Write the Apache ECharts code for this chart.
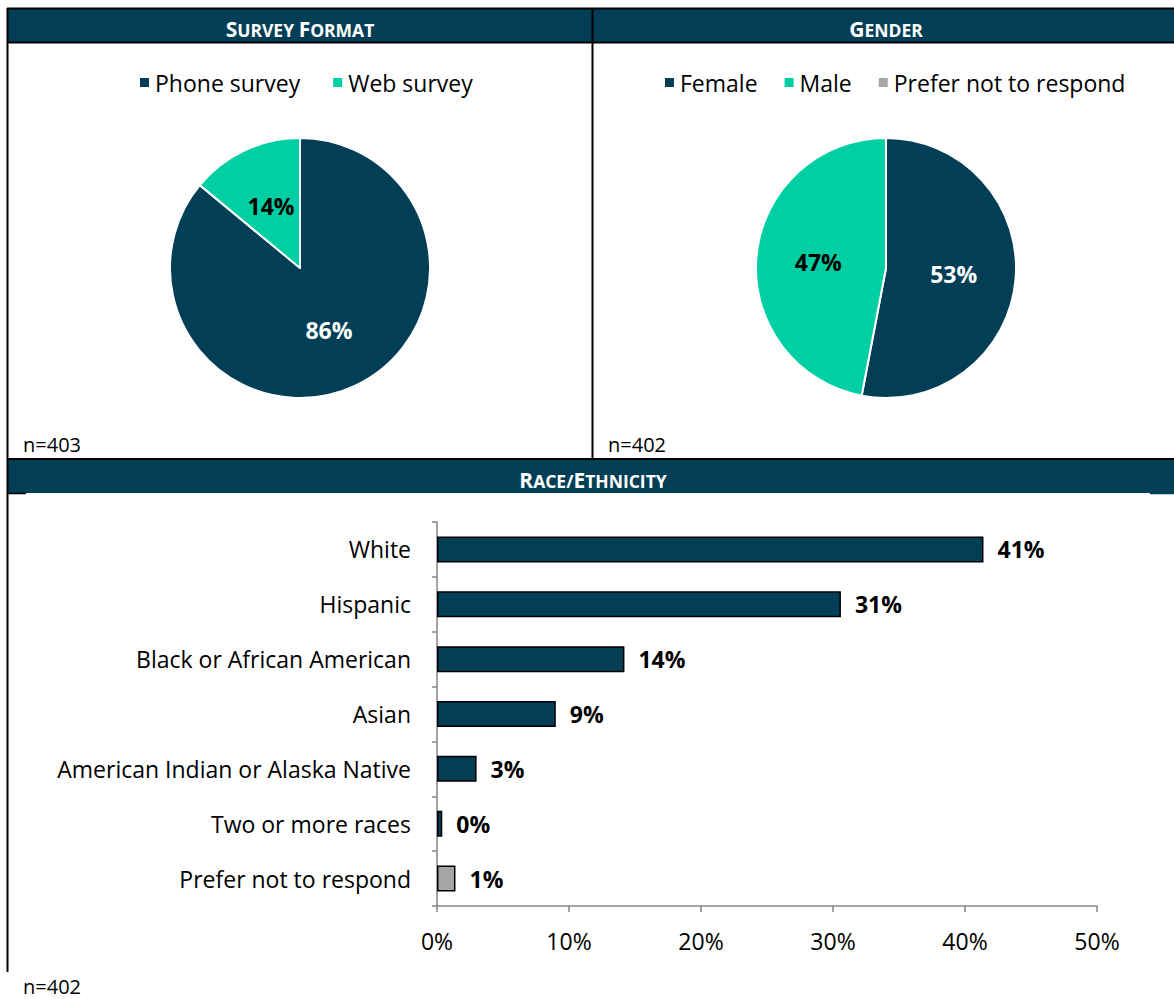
<!DOCTYPE html>
<html>
<head>
<meta charset="utf-8">
<script src="https://cdn.jsdelivr.net/npm/echarts@6/dist/echarts.min.js"></script>
<style>
  html, body { margin: 0; padding: 0; background: #fff; }
  #chart { width: 1174px; height: 999px; }
</style>
</head>
<body>
<div id="chart"></div>
<script>
// ---- data ----
const formatNames = ['Phone survey', 'Web survey'];
const formatValues = [86, 14];
const formatN = 'n=403';

const genderNames = ['Female', 'Male', 'Prefer not to respond'];
const genderValues = [53, 47, 0];
const genderN = 'n=402';

const raceCategories = ['White', 'Hispanic', 'Black or African American', 'Asian',
  'American Indian or Alaska Native', 'Two or more races', 'Prefer not to respond'];
const raceValues = [41.4, 30.6, 14.2, 9.0, 3.0, 0.4, 1.4];
const raceN = 'n=402';

const xMin = 0, xMax = 50, xInterval = 10;

// ---- styles ----
const DARK = '#023F56';
const TEAL = '#00CFA4';
const GRAY = '#A6A6A6';
const FONT = 'Open Sans';
const FS = 23;

const pieColors = {
  'Phone survey': DARK, 'Web survey': TEAL,
  'Female': DARK, 'Male': TEAL, 'Prefer not to respond': GRAY
};
const pieLabelColors = { [DARK]: '#fff', [TEAL]: '#000', [GRAY]: '#000' };

function pieData(names, values) {
  return names.map((n, i) => ({
    name: n,
    value: values[i],
    itemStyle: { color: pieColors[n] },
    label: { show: values[i] > 0, color: pieLabelColors[pieColors[n]] }
  }));
}

function header(x, y, parts) {
  let t = parts.map(p => '{b|' + p[0] + '}' + (p[1] ? '{s|' + p[1] + '}' : '')).join('');
  return {
    type: 'text', z: 10,
    style: {
      x: x, y: y, text: t, align: 'center', verticalAlign: 'middle',
      rich: {
        b: { fontSize: 21, fontWeight: 'bold', fontFamily: FONT, fill: '#fff', verticalAlign: 'bottom', lineHeight: 26 },
        s: { fontSize: 17.5, fontWeight: 'bold', fontFamily: FONT, fill: '#fff', verticalAlign: 'bottom', lineHeight: 26 }
      }
    }
  };
}

const chart = echarts.init(document.getElementById('chart'), null, { renderer: 'svg' });

const option = {
  backgroundColor: '#fff',
  animation: false,
  textStyle: { fontFamily: FONT },
  graphic: [
    { type: 'rect', z: 1, shape: { x: 8, y: 9, width: 1166, height: 33 }, style: { fill: DARK } },
    { type: 'rect', z: 1, shape: { x: 8, y: 460, width: 1166, height: 33 }, style: { fill: DARK } },
    { type: 'line', z: 5, shape: { x1: 7, y1: 8.5, x2: 1174, y2: 8.5 }, style: { stroke: '#000', lineWidth: 2 } },
    { type: 'line', z: 5, shape: { x1: 7, y1: 42.5, x2: 1174, y2: 42.5 }, style: { stroke: '#000', lineWidth: 2 } },
    { type: 'line', z: 5, shape: { x1: 7.5, y1: 8, x2: 7.5, y2: 972 }, style: { stroke: '#000', lineWidth: 2 } },
    { type: 'line', z: 5, shape: { x1: 592.5, y1: 8, x2: 592.5, y2: 459 }, style: { stroke: '#000', lineWidth: 2 } },
    { type: 'line', z: 5, shape: { x1: 7, y1: 459, x2: 1174, y2: 459 }, style: { stroke: '#000', lineWidth: 2 } },
    { type: 'line', z: 5, shape: { x1: 7, y1: 493.5, x2: 26, y2: 493.5 }, style: { stroke: '#000', lineWidth: 1.5 } },
    { type: 'line', z: 5, shape: { x1: 1150, y1: 493.5, x2: 1174, y2: 493.5 }, style: { stroke: DARK, lineWidth: 1.5 } },
    header(300, 26, [['S', 'URVEY '], ['F', 'ORMAT']]),
    header(886, 26, [['G', 'ENDER']]),
    header(593, 477, [['R', 'ACE/'], ['E', 'THNICITY']]),
    { type: 'text', z: 10, style: { x: 23, y: 444, text: formatN, fontSize: 20, fontFamily: FONT, fill: '#000', verticalAlign: 'middle' } },
    { type: 'text', z: 10, style: { x: 608, y: 444, text: genderN, fontSize: 20, fontFamily: FONT, fill: '#000', verticalAlign: 'middle' } },
    { type: 'text', z: 10, style: { x: 23, y: 986, text: raceN, fontSize: 20, fontFamily: FONT, fill: '#000', verticalAlign: 'middle' } }
  ],
  legend: [
    {
      data: formatNames, left: 133, top: 66, itemWidth: 11, itemHeight: 11, itemGap: 31,
      icon: 'rect', textStyle: { fontSize: FS, color: '#000', fontFamily: FONT }
    },
    {
      data: genderNames, left: 658, top: 66, itemWidth: 11, itemHeight: 11, itemGap: 25,
      icon: 'rect', textStyle: { fontSize: FS, color: '#000', fontFamily: FONT }
    }
  ],
  grid: { left: 437, right: 77, top: 522, bottom: 93, containLabel: false },
  xAxis: {
    type: 'value', min: xMin, max: xMax, interval: xInterval,
    axisLine: { show: true, lineStyle: { color: '#868686', width: 1.5 } },
    axisTick: { show: true, length: 6, lineStyle: { color: '#868686', width: 1.5 } },
    axisLabel: { formatter: '{value}%', fontSize: FS, color: '#000', margin: 23, fontFamily: FONT },
    splitLine: { show: false }
  },
  yAxis: {
    type: 'category', data: raceCategories, inverse: true,
    axisLine: { show: true, lineStyle: { color: '#868686', width: 1.5 } },
    axisTick: { show: true, length: 5, lineStyle: { color: '#868686', width: 1.5 } },
    axisLabel: { fontSize: FS, color: '#000', margin: 26, fontFamily: FONT }
  },
  series: [
    {
      type: 'pie', name: 'Survey Format', center: [300, 268], radius: 130,
      startAngle: 90, clockwise: true, legendHoverLink: false,
      itemStyle: { borderColor: '#fff', borderWidth: 2 },
      label: { position: 'inside', formatter: '{c}%', fontSize: FS, fontWeight: 'bold', fontFamily: FONT },
      labelLine: { show: false },
      emphasis: { disabled: true },
      data: pieData(formatNames, formatValues)
    },
    {
      type: 'pie', name: 'Gender', center: [886, 268], radius: 130,
      startAngle: 90, clockwise: true, legendHoverLink: false,
      itemStyle: { borderColor: '#fff', borderWidth: 2 },
      label: { position: 'inside', formatter: '{c}%', fontSize: FS, fontWeight: 'bold', fontFamily: FONT },
      labelLine: { show: false },
      emphasis: { disabled: true },
      data: pieData(genderNames, genderValues)
    },
    {
      type: 'bar', name: 'Race/Ethnicity', barWidth: 26,
      data: raceValues,
      itemStyle: {
        color: p => (p.name === 'Prefer not to respond' ? GRAY : DARK),
        borderColor: '#000', borderWidth: 1.5
      },
      label: {
        show: true, position: 'right', distance: 14,
        formatter: p => Math.round(p.value) + '%',
        fontSize: FS, fontWeight: 'bold', color: '#000', fontFamily: FONT
      },
      emphasis: { disabled: true }
    }
  ]
};
chart.setOption(option);
</script>
</body>
</html>
